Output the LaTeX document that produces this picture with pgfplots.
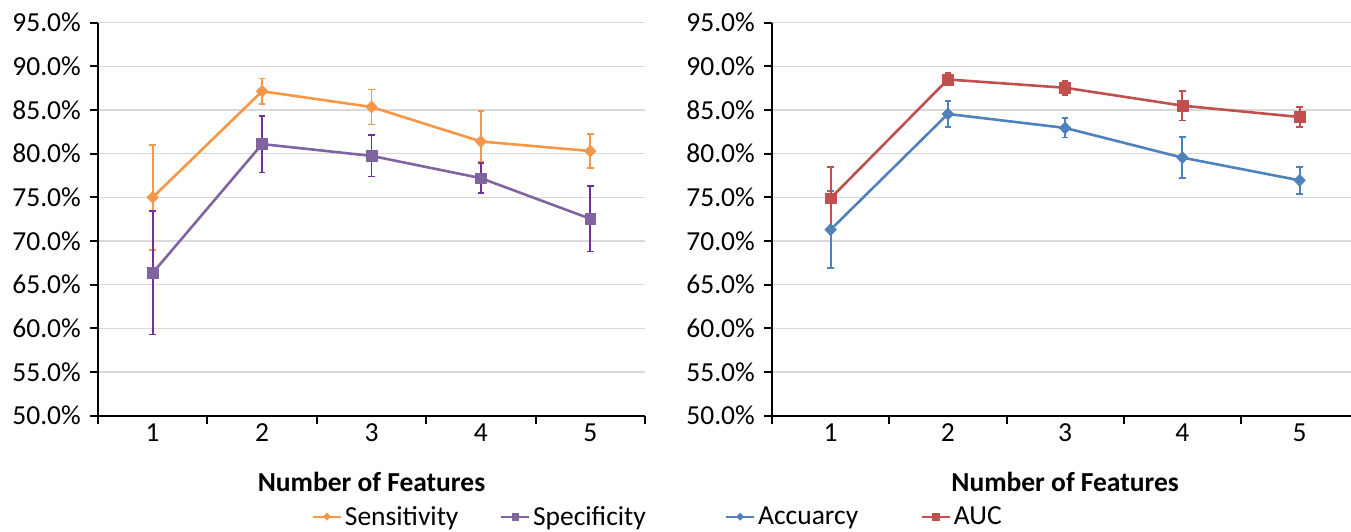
\documentclass[border=0pt]{standalone}
\usepackage{fontspec}
\setmainfont{Carlito}
\usepackage{pgfplots}
\pgfplotsset{compat=1.18}
\usepackage{pgfplotstable}

\definecolor{sensC}{HTML}{F79646}
\definecolor{specC}{HTML}{8064A2}
\definecolor{specErr}{HTML}{7030A0}
\definecolor{accC}{HTML}{4F81BD}
\definecolor{aucC}{HTML}{C0504D}
\definecolor{gridC}{HTML}{D9D9D9}

% mean (%) and error bar extents above / below
\pgfplotstableread{
k val ep em
1 75.00 6.00 6.00
2 87.15 1.45 1.45
3 85.35 2.00 2.00
4 81.40 3.45 2.30
5 80.30 1.95 1.95
}\sensitivity
\pgfplotstableread{
k val ep em
1 66.35 7.05 7.05
2 81.10 3.25 3.25
3 79.75 2.35 2.35
4 77.20 1.70 1.70
5 72.55 3.75 3.75
}\specificity
\pgfplotstableread{
k val ep em
1 71.30 4.40 4.40
2 84.55 1.50 1.50
3 82.95 1.10 1.10
4 79.55 2.35 2.35
5 76.95 1.55 1.55
}\accuracy
\pgfplotstableread{
k val ep em
1 74.90 3.55 3.55
2 88.50 0.70 0.70
3 87.55 0.80 0.80
4 85.50 1.70 1.70
5 84.20 1.15 1.15
}\auc

\newcommand{\chartfont}{\fontsize{27.5}{30}\selectfont}

\pgfplotsset{
  featureaxis/.style={
    scale only axis,
    height=393pt,
    xmin=0.5, xmax=5.5,
    ymin=50, ymax=95,
    axis lines=left,
    axis line style={-, black, line width=2pt},
    tick align=outside,
    major tick length=8pt,
    tick style={black, line width=2pt},
    ytick={50,55,...,95},
    yticklabel={\pgfmathprintnumber[fixed,fixed zerofill,precision=1]{\tick}\%},
    /pgf/number format/assume math mode=true,
    ymajorgrids,
    grid style={gridC, line width=1.6pt},
    % category boundaries carry the ticks, category centres the labels
    xtick={0.5,1.5,...,5.5},
    xticklabels={{},{},{},{},{},{}},
    extra x ticks={1,2,3,4,5},
    extra x tick labels={1,2,3,4,5},
    extra x tick style={major tick length=0pt, grid=none},
    tick label style={font=\chartfont},
    yticklabel style={inner sep=0pt, xshift=-9pt},
    xticklabel style={inner sep=0pt, yshift=-8pt},
    xlabel={\bfseries Number of Features},
    xlabel style={at={(axis description cs:0.5,-0.194)}, anchor=base, inner sep=0pt, font=\chartfont},
    legend columns=2,
    legend style={draw=none, fill=none, inner sep=0pt, font=\chartfont,
      nodes={inner sep=0pt}, column sep=3pt},
    legend image code/.code={%
      \draw[mark repeat=2, mark phase=2, #1, line width=2pt,
        every mark/.append style={scale=0.6}]
        plot coordinates {(0pt,0pt) (14pt,0pt) (28pt,0pt)};},
  },
  series/.style n args={3}{
    color=#1, line width=2.6pt, line join=round,
    mark=#3,
    error bars/.cd, y dir=both, y explicit,
    error bar style={#2, line width=1.8pt},
    error mark options={rotate=90, #2, mark size=3.3pt, line width=1.8pt},
  },
  diamondmark/.style={mark size=6pt, mark options={xscale=1.3, solid, line width=0.5pt}},
  squaremark/.style={mark size=5.4pt, mark options={solid, line width=0.5pt}},
}

\begin{document}
\begin{tikzpicture}
\useasboundingbox (0pt,0pt) rectangle (1351pt,532pt);

% sensitivity and specificity
\begin{axis}[featureaxis, width=547pt,
  at={(98pt,116.3pt)}, anchor=south west,
  legend style={at={(0.3907,-0.257)}, anchor=west,
    /tikz/every even column/.append style={column sep=41.6pt}}]
\addplot[diamondmark, series={sensC}{sensC}{diamond*}]
  table[x=k, y=val, y error plus=ep, y error minus=em] {\sensitivity};
\addlegendentry{Sensitivity}
\addplot[squaremark, series={specC}{specErr}{square*}]
  table[x=k, y=val, y error plus=ep, y error minus=em] {\specificity};
\addlegendentry{Specificity}
\end{axis}

% accuracy and AUC
\begin{axis}[featureaxis, width=586.25pt,
  at={(772pt,116.3pt)}, anchor=south west,
  legend style={at={(-0.0802,-0.257)}, anchor=west,
    /tikz/every even column/.append style={column sep=62.7pt}}]
\addplot[diamondmark, series={accC}{accC}{diamond*}]
  table[x=k, y=val, y error plus=ep, y error minus=em] {\accuracy};
\addlegendentry{Accuarcy}
\addplot[squaremark, series={aucC}{aucC}{square*}]
  table[x=k, y=val, y error plus=ep, y error minus=em] {\auc};
\addlegendentry{AUC}
\end{axis}
\end{tikzpicture}
\end{document}
